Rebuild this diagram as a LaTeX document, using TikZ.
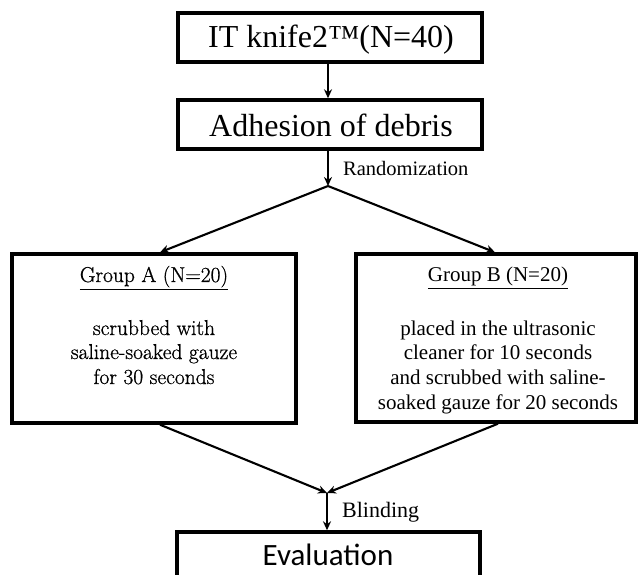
\documentclass[tikz,border=0pt]{standalone}
\usepackage{fontspec}
\newfontfamily\tnr{Liberation Serif}
\newfontfamily\evalfont{Carlito}
\newfontfamily\centfont{Latin Modern Roman}[FakeBold=0.8]
\usetikzlibrary{arrows.meta}
\begin{document}
\begin{tikzpicture}[x=1pt,y=-1pt,
  box/.style={draw, line width=3.4pt, inner sep=0pt},
  arr/.style={line width=2.1pt, -{Stealth[length=9pt,width=8pt]}},
  big/.style={font=\tnr\fontsize{32}{38}\selectfont, anchor=base, inner sep=0pt},
  lab/.style={font=\tnr\fontsize{20.5}{24}\selectfont, anchor=base west, inner sep=0pt},
  atxt/.style={font=\centfont\fontsize{21.5}{25}\selectfont, anchor=base, inner sep=0pt},
  btxt/.style={font=\tnr\fontsize{21}{25}\selectfont, anchor=base, inner sep=0pt}]
\useasboundingbox (0,0) rectangle (638,575);
\clip (0,0) rectangle (638,575);
% boxes
\node[box, minimum width=304pt, minimum height=49pt] (b1) at (330,37.5) {};
\node[box, minimum width=304pt, minimum height=49pt] (b2) at (330,124.5) {};
\node[box, minimum width=284pt, minimum height=169pt] (ga) at (154,338.5) {};
\node[box, minimum width=280pt, minimum height=168pt] (gb) at (496,338) {};
\node[box, minimum width=303pt, minimum height=70pt] (ev) at (328.5,567) {};
% texts
\node[big] (t1) at (331,48) {IT knife2™(N=40)};
\node[big] (t2) at (331,137) {Adhesion of debris};
\node[atxt] (a0) at (154,282) {\underline{Group A (N=20)}};
\node[atxt] (a1) at (154,335) {scrubbed with};
\node[atxt] (a2) at (154,359) {saline-soaked gauze};
\node[atxt] (a3) at (154,384) {for 30 seconds};
\node[btxt] (b0) at (498,282) {\underline{Group B (N=20)}};
\node[btxt] (bl1) at (498,335) {placed in the ultrasonic};
\node[btxt] (bl2) at (498,359) {cleaner for 10 seconds};
\node[btxt] (bl3) at (498,384) {and scrubbed with saline-};
\node[btxt] (bl4) at (498,409) {soaked gauze for 20 seconds};
\node[font=\evalfont\fontsize{31}{36}\selectfont, anchor=base, inner sep=0pt] (e0) at (328,565) {Evaluation};
\node[lab] (r0) at (343,176) {Randomization};
\node[lab, font=\tnr\fontsize{22}{26}\selectfont] (bd) at (342,517) {Blinding};
% connectors
\coordinate (split) at (328,186);
\coordinate (merge) at (327,493);
\draw[arr] (b1.south -| split) -- (b2.north -| split);
\draw[arr] (b2.south -| split) -- (split);
\draw[arr] (split) -- ([xshift=6pt]ga.north);
\draw[arr] (split) -- ([xshift=-1pt]gb.north);
\draw[arr] ([xshift=6pt]ga.south) -- (merge);
\draw[arr] ([xshift=2pt]gb.south) -- (merge);
\draw[arr] (merge) -- (ev.north -| merge);
\end{tikzpicture}
\end{document}
